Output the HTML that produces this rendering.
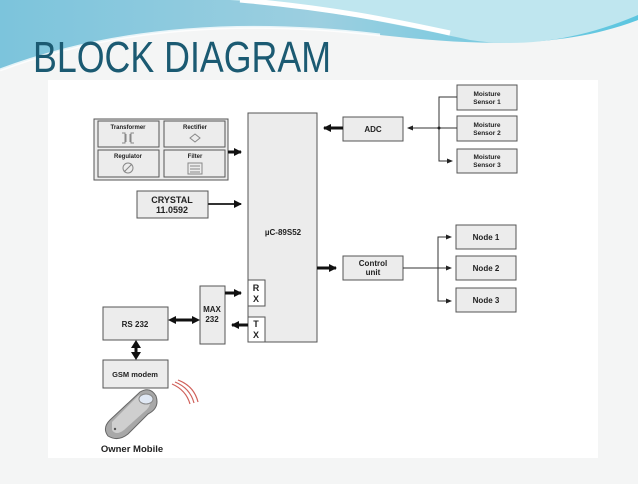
<!DOCTYPE html>
<html><head><meta charset="utf-8"><style>
body{margin:0;width:638px;height:479px;overflow:hidden;background:#f4f5f5;font-family:"Liberation Sans",sans-serif;}
</style></head><body>
<svg width="638" height="479" viewBox="0 0 638 479" xmlns="http://www.w3.org/2000/svg" font-family="Liberation Sans, sans-serif">
<defs>
<linearGradient id="g1" x1="0" y1="0" x2="1" y2="0">
<stop offset="0" stop-color="#7cc4dc"/><stop offset="0.5" stop-color="#9ccfe0"/><stop offset="1" stop-color="#5cc6e0"/>
</linearGradient>
<marker id="ah" markerWidth="8" markerHeight="8" refX="7" refY="4" orient="auto" markerUnits="userSpaceOnUse"><path d="M0,0 L8,4 L0,8 z" fill="#111"/></marker>
<marker id="as" markerWidth="6" markerHeight="5" refX="5" refY="2.5" orient="auto" markerUnits="userSpaceOnUse"><path d="M0,0 L6,2.5 L0,5 z" fill="#222"/></marker>
</defs>
<rect width="638" height="479" fill="#f4f5f5"/>
<!-- header swoosh -->
<path d="M0,0 H638 V20 C560,50 470,45 380,35 C250,20 120,25 0,70 Z" fill="url(#g1)"/>
<path d="M230,0 C330,10 400,25 470,40 C520,48 580,40 638,15 V0 Z" fill="#bfe6ef"/>
<path d="M240,0 C330,8 390,20 450,33" stroke="#fff" stroke-width="5" fill="none"/>
<path d="M0,70 C120,25 250,20 380,35" stroke="#fff" stroke-width="3" fill="none" opacity="0.8"/>
<text x="33" y="72" font-size="44" fill="#1b5a72" textLength="298" lengthAdjust="spacingAndGlyphs">BLOCK DIAGRAM</text>
<!-- panel -->
<rect x="48" y="80" width="550" height="378" fill="#fff"/>
<g stroke="#555" stroke-width="1" fill="#ececec">
<rect x="94" y="119" width="134" height="61"/>
<rect x="98" y="121" width="61" height="26"/>
<rect x="164" y="121" width="61" height="26"/>
<rect x="98" y="150" width="61" height="27"/>
<rect x="164" y="150" width="61" height="27"/>
<rect x="248" y="113" width="69" height="229"/>
<rect x="137" y="191" width="71" height="27"/>
<rect x="248" y="280" width="17" height="26" fill="#fff"/>
<rect x="248" y="317" width="17" height="25" fill="#fff"/>
<rect x="200" y="286" width="25" height="58"/>
<rect x="103" y="307" width="65" height="33"/>
<rect x="103" y="360" width="65" height="28"/>
<rect x="343" y="117" width="60" height="24"/>
<rect x="343" y="256" width="60" height="24"/>
<rect x="457" y="85" width="60" height="25"/>
<rect x="457" y="116" width="60" height="25"/>
<rect x="457" y="149" width="60" height="24"/>
<rect x="456" y="225" width="60" height="24"/>
<rect x="456" y="256" width="60" height="24"/>
<rect x="456" y="288" width="60" height="24"/>
</g>
<g font-weight="bold" fill="#222" text-anchor="middle">
<text x="128" y="129" font-size="6">Transformer</text>
<text x="195" y="129" font-size="6">Rectifier</text>
<text x="128" y="158" font-size="6">Regulator</text>
<text x="195" y="158" font-size="6">Filter</text>
<text x="172" y="203" font-size="9">CRYSTAL</text>
<text x="172" y="213" font-size="9">11.0592</text>
<text x="283" y="235" font-size="8">µC-89S52</text>
<text x="256" y="291" font-size="9">R</text><text x="256" y="302" font-size="9">X</text>
<text x="256" y="327" font-size="9">T</text><text x="256" y="338" font-size="9">X</text>
<text x="212" y="312" font-size="8">MAX</text><text x="212" y="322" font-size="8">232</text>
<text x="135" y="327" font-size="8">RS 232</text>
<text x="135" y="377" font-size="7.5">GSM modem</text>
<text x="373" y="132" font-size="8">ADC</text>
<text x="373" y="266" font-size="8">Control</text><text x="373" y="275" font-size="8">unit</text>
<text x="487" y="96" font-size="6.5">Moisture</text><text x="487" y="104" font-size="6.5">Sensor 1</text>
<text x="487" y="127" font-size="6.5">Moisture</text><text x="487" y="135" font-size="6.5">Sensor 2</text>
<text x="487" y="159" font-size="6.5">Moisture</text><text x="487" y="167" font-size="6.5">Sensor 3</text>
<text x="486" y="240" font-size="8">Node 1</text>
<text x="486" y="271" font-size="8">Node 2</text>
<text x="486" y="303" font-size="8">Node 3</text>
<text x="132" y="452" font-size="9.5">Owner Mobile</text>
</g>
<!-- icons -->
<g stroke="#888" fill="none" stroke-width="1">
<path d="M122,133 h3 v10 h-3 M134,133 h-3 v10 h3 M126,134 v8 M130,134 v8"/>
<path d="M190,138 l5,-4 l5,4 l-5,4 z"/>
<circle cx="128" cy="168" r="5"/><path d="M124,172 l8,-8"/>
<rect x="188" y="163" width="14" height="11"/><path d="M190,166 h10 M190,169 h10 M190,172 h10"/>
</g>
<!-- connectors -->
<g stroke="#111" stroke-width="3" fill="none">
<line x1="228" y1="152" x2="241" y2="152" marker-end="url(#ah)"/>
<line x1="343" y1="128" x2="324" y2="128" marker-end="url(#ah)"/>
<line x1="317" y1="268" x2="336" y2="268" marker-end="url(#ah)"/>
<line x1="225" y1="293" x2="241" y2="293" marker-end="url(#ah)"/>
<line x1="248" y1="325" x2="232" y2="325" marker-end="url(#ah)"/>
<line x1="176" y1="320" x2="192" y2="320"/>
<line x1="136" y1="348" x2="136" y2="352"/>
</g>
<g fill="#111">
<path d="M168,320 L176,316 L176,324 Z"/><path d="M200,320 L192,316 L192,324 Z"/>
<path d="M136,340 L131,348 L141,348 Z"/><path d="M136,360 L131,352 L141,352 Z"/>
</g>
<line x1="208" y1="204" x2="241" y2="204" stroke="#333" stroke-width="2" marker-end="url(#ah)"/>
<g stroke="#333" stroke-width="1" fill="none">
<line x1="439" y1="128" x2="408" y2="128" marker-end="url(#as)"/>
<path d="M457,97 H439 V161 H452" marker-end="url(#as)"/>
<line x1="439" y1="128" x2="457" y2="128"/>
<line x1="403" y1="268" x2="451" y2="268" marker-end="url(#as)"/>
<path d="M451,237 H438 V301 H451"/>
<line x1="444" y1="237" x2="451" y2="237" marker-end="url(#as)"/>
<line x1="444" y1="301" x2="451" y2="301" marker-end="url(#as)"/>
</g>
<circle cx="439" cy="128" r="1.5" fill="#222"/>
<!-- waves -->
<g stroke="#d0605a" stroke-width="1.2" fill="none">
<path d="M172,384 q14,6 18,20"/><path d="M175,382 q15,6 19,21"/><path d="M178,380 q16,6 20,22"/>
</g>
<!-- phone -->
<g>
<path d="M110,420 L140,392 Q150,386 156,396 Q160,408 148,414 L128,434 Q118,442 108,436 Q102,428 110,420 Z" fill="#a8a8a8" stroke="#666"/>
<path d="M112,422 L138,396 Q146,392 150,398 Q152,406 144,412 L124,430 Q116,436 112,430 Z" fill="#cfcfcf"/>
<ellipse cx="146" cy="399" rx="7" ry="5" fill="#e0e8f4" stroke="#888"/>
<circle cx="115" cy="429" r="1.2" fill="#555"/>
</g>
</svg>
</body></html>
